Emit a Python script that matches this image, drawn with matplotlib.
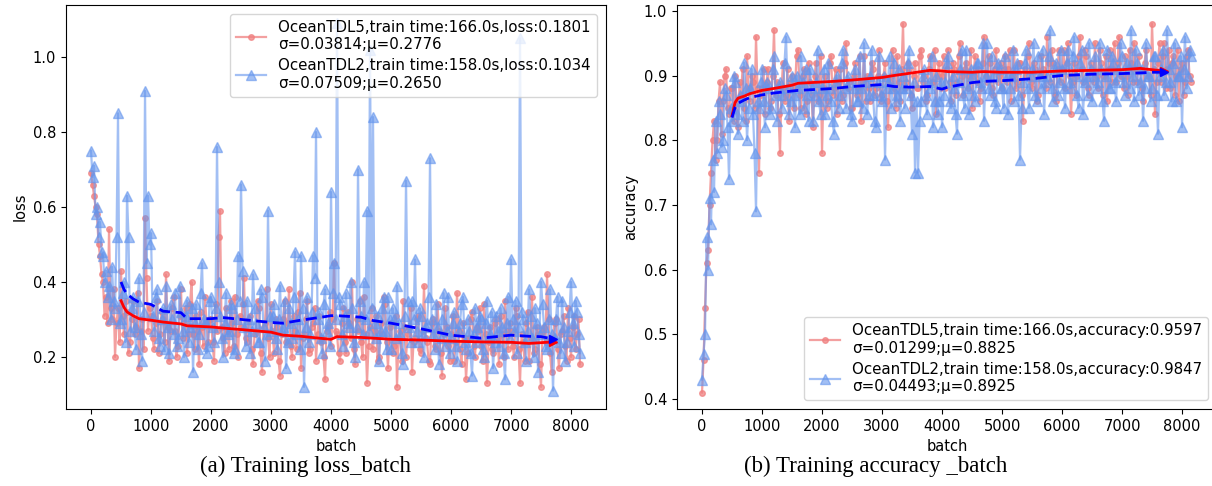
import numpy as np
import matplotlib
matplotlib.use("Agg")
import matplotlib.pyplot as plt

# ---------------- data ----------------
batch_step = 25

loss_tdl5 = [
    0.69, 0.66, 0.63, 0.60, 0.58, 0.50, 0.47, 0.42, 0.40, 0.31, 0.36, 0.29, 0.54, 0.33, 0.30, 0.38, 0.20, 0.29, 0.33, 0.24,
    0.43, 0.31, 0.26, 0.35, 0.32, 0.21, 0.24, 0.30, 0.35, 0.26, 0.28, 0.37, 0.17, 0.27, 0.30, 0.22, 0.57, 0.41, 0.27, 0.33,
    0.31, 0.25, 0.22, 0.29, 0.35, 0.21, 0.26, 0.32, 0.30, 0.24, 0.42, 0.28, 0.19, 0.27, 0.33, 0.36, 0.27, 0.20, 0.23, 0.31,
    0.38, 0.25, 0.29, 0.33, 0.21, 0.26, 0.34, 0.40, 0.26, 0.22, 0.31, 0.27, 0.18, 0.32, 0.28, 0.23, 0.36, 0.29, 0.24, 0.30,
    0.30, 0.24, 0.19, 0.34, 0.27, 0.52, 0.59, 0.28, 0.25, 0.21, 0.33, 0.27, 0.22, 0.35, 0.29, 0.23, 0.36, 0.26, 0.20, 0.31,
    0.28, 0.34, 0.41, 0.25, 0.24, 0.30, 0.31, 0.22, 0.18, 0.26, 0.27, 0.35, 0.33, 0.21, 0.16, 0.28, 0.29, 0.38, 0.25, 0.20,
    0.34, 0.27, 0.21, 0.30, 0.28, 0.19, 0.15, 0.26, 0.30, 0.35, 0.24, 0.29, 0.38, 0.23, 0.20, 0.31, 0.27, 0.22, 0.32, 0.37,
    0.17, 0.25, 0.26, 0.30, 0.35, 0.21, 0.22, 0.28, 0.29, 0.33, 0.19, 0.26, 0.31, 0.24, 0.25, 0.20, 0.14, 0.27, 0.28, 0.32,
    0.23, 0.30, 0.45, 0.27, 0.26, 0.21, 0.19, 0.29, 0.33, 0.24, 0.21, 0.32, 0.29, 0.25, 0.40, 0.22, 0.18, 0.30, 0.27, 0.35,
    0.24, 0.20, 0.36, 0.26, 0.13, 0.23, 0.28, 0.33, 0.22, 0.27, 0.31, 0.19, 0.20, 0.29, 0.26, 0.36, 0.34, 0.24, 0.17, 0.28,
    0.29, 0.21, 0.23, 0.31, 0.12, 0.25, 0.27, 0.19, 0.35, 0.28, 0.20, 0.26, 0.28, 0.33, 0.16, 0.24, 0.25, 0.30, 0.31, 0.22,
    0.21, 0.27, 0.39, 0.25, 0.24, 0.19, 0.18, 0.29, 0.30, 0.23, 0.22, 0.34, 0.27, 0.21, 0.15, 0.26, 0.33, 0.28, 0.23, 0.19,
    0.26, 0.31, 0.19, 0.24, 0.37, 0.27, 0.22, 0.18, 0.29, 0.25, 0.14, 0.21, 0.25, 0.30, 0.32, 0.23, 0.20, 0.28, 0.27, 0.33,
    0.23, 0.19, 0.34, 0.26, 0.13, 0.24, 0.28, 0.22, 0.21, 0.29, 0.30, 0.25, 0.18, 0.31, 0.26, 0.20, 0.35, 0.27, 0.22, 0.29,
    0.27, 0.23, 0.20, 0.33, 0.31, 0.22, 0.13, 0.26, 0.24, 0.19, 0.29, 0.32, 0.19, 0.25, 0.36, 0.21, 0.22, 0.28, 0.26, 0.18,
    0.12, 0.27, 0.28, 0.24, 0.42, 0.30, 0.21, 0.16, 0.25, 0.29, 0.30, 0.22, 0.17, 0.26, 0.27, 0.31, 0.23, 0.19, 0.33, 0.25,
    0.20, 0.28, 0.31, 0.22, 0.26, 0.30, 0.18,
]

loss_tdl2 = [
    0.75, 0.68, 0.71, 0.58, 0.60, 0.52, 0.56, 0.48, 0.47, 0.40, 0.43, 0.36, 0.39, 0.30, 0.44, 0.35, 0.33, 0.52, 0.85, 0.29,
    0.30, 0.37, 0.40, 0.24, 0.63, 0.52, 0.27, 0.33, 0.36, 0.28, 0.22, 0.35, 0.41, 0.26, 0.19, 0.32, 0.91, 0.45, 0.63, 0.50,
    0.53, 0.31, 0.27, 0.36, 0.38, 0.25, 0.23, 0.30, 0.33, 0.22, 0.39, 0.28, 0.21, 0.34, 0.30, 0.26, 0.37, 0.23, 0.25, 0.39,
    0.32, 0.27, 0.20, 0.31, 0.35, 0.24, 0.28, 0.33, 0.16, 0.29, 0.34, 0.22, 0.26, 0.37, 0.45, 0.30, 0.29, 0.21, 0.23, 0.35,
    0.36, 0.28, 0.24, 0.33, 0.76, 0.40, 0.31, 0.25, 0.20, 0.29, 0.37, 0.26, 0.27, 0.34, 0.33, 0.21, 0.22, 0.30, 0.47, 0.35,
    0.66, 0.43, 0.28, 0.23, 0.35, 0.30, 0.21, 0.27, 0.42, 0.33, 0.29, 0.24, 0.24, 0.38, 0.36, 0.28, 0.19, 0.26, 0.59, 0.31,
    0.27, 0.31, 0.34, 0.25, 0.22, 0.30, 0.39, 0.27, 0.28, 0.35, 0.17, 0.24, 0.33, 0.29, 0.25, 0.36, 0.48, 0.26, 0.30, 0.22,
    0.47, 0.33, 0.12, 0.28, 0.36, 0.24, 0.26, 0.32, 0.47, 0.41, 0.80, 0.30, 0.32, 0.25, 0.21, 0.34, 0.38, 0.27, 0.29, 0.23,
    0.64, 0.37, 0.45, 0.30, 1.09, 0.36, 0.34, 0.26, 0.23, 0.31, 0.37, 0.29, 0.28, 0.40, 0.33, 0.24, 0.20, 0.28, 0.70, 0.35,
    0.31, 0.26, 0.40, 0.30, 0.59, 0.27, 1.02, 0.33, 0.84, 0.29, 0.25, 0.31, 0.19, 0.27, 0.33, 0.36, 0.27, 0.22, 0.36, 0.30,
    0.22, 0.33, 0.30, 0.25, 0.39, 0.29, 0.26, 0.21, 0.18, 0.31, 0.67, 0.35, 0.28, 0.24, 0.35, 0.30, 0.46, 0.27, 0.24, 0.33,
    0.31, 0.26, 0.20, 0.28, 0.29, 0.36, 0.73, 0.30, 0.26, 0.22, 0.34, 0.28, 0.18, 0.25, 0.30, 0.37, 0.23, 0.27, 0.36, 0.21,
    0.25, 0.29, 0.32, 0.23, 0.19, 0.27, 0.29, 0.34, 0.36, 0.24, 0.22, 0.30, 0.27, 0.21, 0.15, 0.26, 0.33, 0.28, 0.24, 0.31,
    0.30, 0.22, 0.20, 0.29, 0.35, 0.25, 0.26, 0.32, 0.17, 0.24, 0.31, 0.27, 0.23, 0.33, 0.28, 0.21, 0.14, 0.29, 0.36, 0.25,
    0.46, 0.30, 0.27, 0.35, 0.21, 0.28, 1.05, 0.32, 0.30, 0.24, 0.19, 0.27, 0.38, 0.31, 0.25, 0.20, 0.33, 0.29, 0.16, 0.26,
    0.40, 0.34, 0.28, 0.23, 0.22, 0.30, 0.38, 0.26, 0.11, 0.25, 0.30, 0.36, 0.24, 0.21, 0.35, 0.28, 0.19, 0.24, 0.27, 0.32,
    0.40, 0.29, 0.23, 0.35, 0.32, 0.26, 0.21,
]

acc_tdl5 = [
    0.41, 0.46, 0.54, 0.61, 0.63, 0.70, 0.75, 0.80, 0.83, 0.77, 0.80, 0.86, 0.89, 0.81, 0.86, 0.90, 0.91, 0.85, 0.84, 0.88,
    0.88, 0.83, 0.90, 0.86, 0.82, 0.89, 0.87, 0.91, 0.85, 0.83, 0.93, 0.88, 0.86, 0.90, 0.89, 0.85, 0.96, 0.88, 0.75, 0.87,
    0.88, 0.91, 0.84, 0.89, 0.91, 0.85, 0.86, 0.90, 0.97, 0.87, 0.89, 0.84, 0.78, 0.88, 0.92, 0.86, 0.87, 0.91, 0.83, 0.89,
    0.90, 0.85, 0.88, 0.93, 0.94, 0.87, 0.85, 0.90, 0.91, 0.84, 0.86, 0.92, 0.89, 0.87, 0.82, 0.90, 0.92, 0.86, 0.87, 0.93,
    0.78, 0.88, 0.90, 0.85, 0.86, 0.92, 0.93, 0.87, 0.88, 0.91, 0.84, 0.89, 0.91, 0.86, 0.87, 0.92, 0.95, 0.88, 0.89, 0.85,
    0.85, 0.90, 0.92, 0.87, 0.88, 0.93, 0.83, 0.89, 0.93, 0.86, 0.90, 0.88, 0.86, 0.92, 0.91, 0.87, 0.88, 0.90, 0.94, 0.86,
    0.87, 0.90, 0.92, 0.86, 0.82, 0.89, 0.90, 0.94, 0.88, 0.85, 0.93, 0.89, 0.86, 0.91, 0.98, 0.88, 0.89, 0.92, 0.91, 0.87,
    0.85, 0.90, 0.92, 0.88, 0.88, 0.93, 0.94, 0.89, 0.90, 0.86, 0.87, 0.91, 0.93, 0.89, 0.89, 0.94, 0.84, 0.90, 0.92, 0.88,
    0.90, 0.93, 0.88, 0.91, 0.94, 0.89, 0.86, 0.92, 0.91, 0.87, 0.89, 0.93, 0.95, 0.90, 0.87, 0.91, 0.92, 0.88, 0.90, 0.94,
    0.85, 0.90, 0.93, 0.89, 0.91, 0.86, 0.88, 0.92, 0.96, 0.90, 0.89, 0.93, 0.92, 0.88, 0.87, 0.91, 0.94, 0.89, 0.90, 0.92,
    0.88, 0.91, 0.93, 0.89, 0.91, 0.94, 0.86, 0.90, 0.94, 0.88, 0.89, 0.92, 0.92, 0.87, 0.83, 0.91, 0.90, 0.93, 0.95, 0.89,
    0.88, 0.92, 0.91, 0.86, 0.87, 0.90, 0.93, 0.91, 0.90, 0.88, 0.96, 0.92, 0.89, 0.94, 0.92, 0.87, 0.86, 0.91, 0.94, 0.89,
    0.91, 0.94, 0.88, 0.92, 0.95, 0.90, 0.84, 0.89, 0.92, 0.87, 0.90, 0.93, 0.96, 0.91, 0.89, 0.94, 0.93, 0.88, 0.87, 0.92,
    0.91, 0.89, 0.95, 0.90, 0.88, 0.94, 0.92, 0.87, 0.90, 0.93, 0.86, 0.91, 0.94, 0.89, 0.91, 0.95, 0.89, 0.92, 0.96, 0.90,
    0.90, 0.88, 0.93, 0.90, 0.87, 0.94, 0.92, 0.89, 0.95, 0.91, 0.89, 0.93, 0.91, 0.88, 0.86, 0.92, 0.94, 0.90, 0.90, 0.87,
    0.98, 0.91, 0.84, 0.89, 0.92, 0.95, 0.89, 0.93, 0.95, 0.88, 0.91, 0.94, 0.88, 0.92, 0.93, 0.87, 0.90, 0.94, 0.86, 0.91,
    0.92, 0.87, 0.89, 0.93, 0.94, 0.90, 0.89,
]

acc_tdl2 = [
    0.43, 0.47, 0.50, 0.65, 0.60, 0.71, 0.67, 0.77, 0.72, 0.83, 0.78, 0.86, 0.84, 0.79, 0.80, 0.88, 0.87, 0.82, 0.74, 0.85,
    0.83, 0.90, 0.89, 0.84, 0.81, 0.87, 0.86, 0.83, 0.92, 0.88, 0.80, 0.85, 0.88, 0.91, 0.84, 0.78, 0.69, 0.86, 0.85, 0.89,
    0.91, 0.86, 0.82, 0.89, 0.88, 0.84, 0.85, 0.91, 0.93, 0.87, 0.83, 0.88, 0.89, 0.85, 0.87, 0.92, 0.96, 0.88, 0.84, 0.86,
    0.90, 0.87, 0.82, 0.90, 0.88, 0.84, 0.93, 0.89, 0.85, 0.91, 0.87, 0.83, 0.91, 0.88, 0.83, 0.87, 0.89, 0.94, 0.86, 0.84,
    0.88, 0.91, 0.84, 0.87, 0.92, 0.88, 0.86, 0.83, 0.81, 0.89, 0.90, 0.85, 0.87, 0.92, 0.94, 0.88, 0.85, 0.90, 0.89, 0.84,
    0.83, 0.88, 0.91, 0.86, 0.86, 0.93, 0.88, 0.85, 0.95, 0.89, 0.84, 0.87, 0.90, 0.94, 0.87, 0.83, 0.82, 0.89, 0.93, 0.87,
    0.86, 0.90, 0.77, 0.88, 0.89, 0.93, 0.85, 0.88, 0.92, 0.86, 0.87, 0.91, 0.83, 0.88, 0.90, 0.85, 0.88, 0.92, 0.94, 0.87,
    0.81, 0.89, 0.75, 0.86, 0.75, 0.83, 0.86, 0.90, 0.91, 0.87, 0.84, 0.89, 0.88, 0.93, 0.82, 0.86, 0.90, 0.84, 0.86, 0.89,
    0.82, 0.87, 0.89, 0.92, 0.93, 0.86, 0.85, 0.90, 0.88, 0.84, 0.81, 0.89, 0.91, 0.94, 0.87, 0.85, 0.94, 0.88, 0.84, 0.91,
    0.90, 0.87, 0.86, 0.92, 0.92, 0.89, 0.88, 0.95, 0.83, 0.90, 0.95, 0.88, 0.87, 0.93, 0.90, 0.86, 0.85, 0.92, 0.91, 0.88,
    0.88, 0.85, 0.93, 0.90, 0.84, 0.88, 0.90, 0.94, 0.86, 0.91, 0.92, 0.87, 0.77, 0.85, 0.89, 0.92, 0.94, 0.88, 0.85, 0.90,
    0.91, 0.95, 0.87, 0.86, 0.93, 0.90, 0.88, 0.94, 0.84, 0.89, 0.90, 0.93, 0.97, 0.88, 0.86, 0.91, 0.92, 0.87, 0.89, 0.94,
    0.91, 0.88, 0.85, 0.92, 0.94, 0.89, 0.88, 0.93, 0.96, 0.90, 0.87, 0.85, 0.92, 0.94, 0.84, 0.89, 0.90, 0.87, 0.95, 0.91,
    0.86, 0.90, 0.93, 0.88, 0.89, 0.95, 0.91, 0.86, 0.83, 0.90, 0.94, 0.88, 0.88, 0.93, 0.92, 0.89, 0.86, 0.91, 0.90, 0.95,
    0.93, 0.89, 0.87, 0.92, 0.91, 0.88, 0.97, 0.90, 0.86, 0.94, 0.92, 0.87, 0.89, 0.91, 0.83, 0.88, 0.95, 0.90, 0.90, 0.86,
    0.88, 0.93, 0.93, 0.87, 0.81, 0.90, 0.91, 0.94, 0.87, 0.89, 0.97, 0.91, 0.89, 0.86, 0.92, 0.95, 0.86, 0.90, 0.90, 0.93,
    0.82, 0.91, 0.96, 0.88, 0.90, 0.94, 0.93,
]

# moving-average trend lines
ma_batches = [500, 550, 600, 700, 800, 1000, 1200, 1500, 1600, 2000, 2200, 2500, 3000, 3200,
              3500, 3800, 4000, 4100, 4500, 4700, 5000, 5500, 6000, 6500, 7000, 7300, 7500, 7700]
loss_ma_tdl5 = [0.350, 0.332, 0.320, 0.310, 0.302, 0.298, 0.293, 0.288, 0.283, 0.280, 0.277, 0.273, 0.266, 0.258,
                0.255, 0.250, 0.247, 0.254, 0.252, 0.250, 0.247, 0.245, 0.242, 0.240, 0.239, 0.236, 0.238, 0.240]
loss_ma_tdl2 = [0.400, 0.380, 0.368, 0.355, 0.346, 0.340, 0.322, 0.318, 0.302, 0.302, 0.305, 0.300, 0.292, 0.290,
                0.298, 0.305, 0.310, 0.310, 0.306, 0.297, 0.290, 0.275, 0.258, 0.250, 0.258, 0.255, 0.254, 0.248]
acc_ma_tdl5 = [0.838, 0.858, 0.865, 0.868, 0.872, 0.877, 0.880, 0.885, 0.888, 0.890, 0.891, 0.893, 0.897, 0.900,
               0.904, 0.908, 0.907, 0.906, 0.905, 0.906, 0.905, 0.905, 0.907, 0.908, 0.909, 0.911, 0.909, 0.907]
acc_ma_tdl2 = [0.835, 0.850, 0.857, 0.862, 0.866, 0.870, 0.873, 0.876, 0.877, 0.879, 0.880, 0.883, 0.886, 0.883,
               0.882, 0.883, 0.879, 0.882, 0.889, 0.891, 0.892, 0.895, 0.900, 0.902, 0.903, 0.904, 0.905, 0.905]

label_loss5 = "OceanTDL5,train time:166.0s,loss:0.1801\nσ=0.03814;μ=0.2776"
label_loss2 = "OceanTDL2,train time:158.0s,loss:0.1034\nσ=0.07509;μ=0.2650"
label_acc5 = "OceanTDL5,train time:166.0s,accuracy:0.9597\nσ=0.01299;μ=0.8825"
label_acc2 = "OceanTDL2,train time:158.0s,accuracy:0.9847\nσ=0.04493;μ=0.8925"
captions = ["(a) Training loss_batch", "(b) Training accuracy _batch"]
xticks = [0, 1000, 2000, 3000, 4000, 5000, 6000, 7000, 8000]

# ---------------- figure ----------------
plt.rcParams['font.family'] = ['DejaVu Sans']
W, H = 1212, 486
fig = plt.figure(figsize=(W / 100, H / 100), dpi=100)

ax1 = fig.add_axes([66 / W, 1 - 409 / H, 540 / W, 404 / H])
ax2 = fig.add_axes([677 / W, 1 - 409 / H, 540 / W, 404 / H])

red_c = '#F08080'
blue_c = '#6495ED'


def draw(ax, y5, y2, ma5, ma2, lab5, lab2, ylabel, legloc):
    x5 = np.arange(len(y5)) * batch_step
    x2 = np.arange(len(y2)) * batch_step
    ax.plot(x5, y5, color=red_c, marker='o', markersize=4, lw=1.6, alpha=0.75, label=lab5, zorder=2)
    ax.plot(x2, y2, color=blue_c, marker='^', markersize=7.5, lw=1.6, alpha=0.6, label=lab2, zorder=3)
    ax.plot(ma_batches, ma5, color='red', lw=2, zorder=5)
    ax.plot(ma_batches, ma2, color='blue', lw=2, ls='--', dashes=(4, 2), zorder=5)
    ax.plot(ma_batches[-1:], ma5[-1:], color='red', marker='>', markersize=6, ls='none', zorder=6)
    ax.plot(ma_batches[-1:], ma2[-1:], color='blue', marker='>', markersize=6, ls='none', zorder=6)
    ax.set_xticks(xticks)
    ax.tick_params(labelsize=10.5)
    ax.set_xlabel('batch', fontsize=10.5)
    ax.set_ylabel(ylabel, fontsize=10.5)
    ax.legend(loc=legloc, fontsize=10.8, handlelength=2, labelspacing=0.4, borderaxespad=0.6)


draw(ax1, loss_tdl5, loss_tdl2, loss_ma_tdl5, loss_ma_tdl2, label_loss5, label_loss2, 'loss', 'upper right')
draw(ax2, acc_tdl5, acc_tdl2, acc_ma_tdl5, acc_ma_tdl2, label_acc5, label_acc2, 'accuracy', 'lower right')
ax1.set_ylim(0.061, 1.139)
ax1.set_yticks([0.2, 0.4, 0.6, 0.8, 1.0])
ax2.set_ylim(0.3845, 1.009)
ax2.set_yticks([0.4, 0.5, 0.6, 0.7, 0.8, 0.9, 1.0])
for ax in (ax1, ax2):
    ax.set_xlim(-417, 8583)

fig.text(306 / W, 1 - 466 / H, captions[0], family='Liberation Serif', fontsize=16.5, ha='center', va='center')
fig.text(876 / W, 1 - 466 / H, captions[1], family='Liberation Serif', fontsize=16.5, ha='center', va='center')

fig.savefig('out.png', dpi=100)
